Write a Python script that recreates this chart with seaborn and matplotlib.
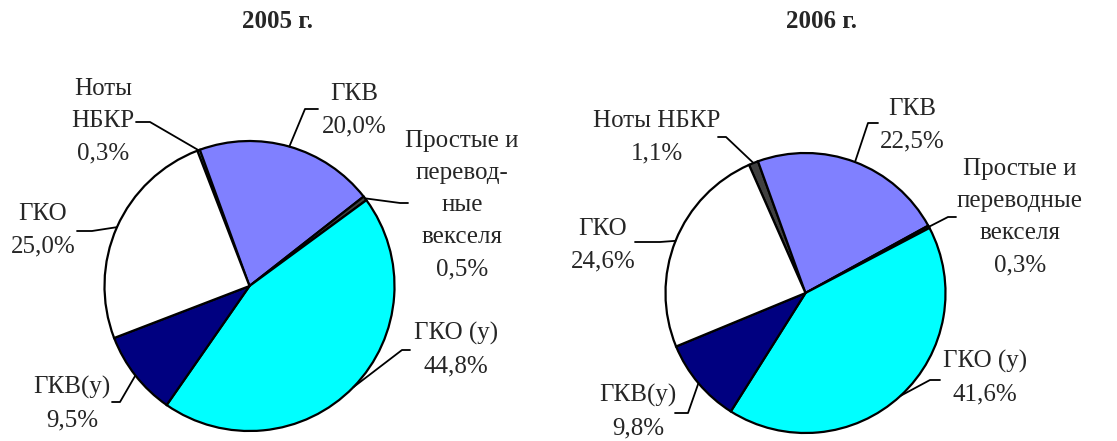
import numpy as np
import seaborn as sns
import matplotlib.pyplot as plt

sns.set_style("white")
plt.rcParams['font.family'] = ['Liberation Serif', 'DejaVu Serif']

# data (clockwise from top)
names_2005 = ['Ноты\nНБКР', 'ГКВ', 'Простые и\nперевод-\nные\nвекселя', 'ГКО (у)', 'ГКВ(у)', 'ГКО']
shares_2005 = [0.3, 20.0, 0.5, 44.8, 9.5, 25.0]
names_2006 = ['Ноты НБКР', 'ГКВ', 'Простые и\nпереводные\nвекселя', 'ГКО (у)', 'ГКВ(у)', 'ГКО']
shares_2006 = [1.1, 22.5, 0.3, 41.6, 9.8, 24.6]
colors_2005 = ['#99ccff', '#8080ff', '#404040', '#00ffff', '#000080', '#ffffff']
colors_2006 = ['#404040', '#8080ff', '#1a1a1a', '#00ffff', '#000080', '#ffffff']

W, H = 1117, 441
fig = plt.figure(figsize=(W / 100, H / 100), dpi=100)
ax = fig.add_axes([0, 0, 1, 1])

# label layout in pixels (top-left origin): text centre, elbow, line end
lay_2005 = [((103, 121), (150, 122), (136, 122)),
            ((354, 110), (305, 109), (318, 109)),
            ((462, 205), (400, 203), (408, 203)),
            ((456, 350), (402, 350), (410, 350)),
            ((72, 404), (120, 402), (112, 402)),
            ((43, 230), (92, 231), (77, 231))]
lay_2006 = [((657, 137), (726, 137), (718, 137)),
            ((912, 125), (868, 123), (878, 123)),
            ((1020, 217), (948, 217), (956, 217)),
            ((985, 378), (930, 380), (940, 380)),
            ((638, 412), (688, 413), (675, 413)),
            ((603, 245), (660, 242), (635, 242))]


def draw(names, shares, colors, center, radius, start, layout, title, title_x):
    cx, cy = center[0], H - center[1]
    wedges, _ = ax.pie(shares, colors=colors, startangle=start, counterclock=False,
                       center=(cx, cy), radius=radius, frame=True,
                       wedgeprops=dict(edgecolor='black', linewidth=1.6))
    for w, name, val, (txt, elb, end) in zip(wedges, names, shares, layout):
        mid = np.deg2rad((w.theta1 + w.theta2) / 2)
        ex, ey = cx + radius * np.cos(mid), cy + radius * np.sin(mid)
        ax.plot([ex, elb[0], end[0]], [ey, H - elb[1], H - end[1]],
                color='black', lw=1.3)
        label = name + '\n' + f'{val:.1f}%'.replace('.', ',')
        ax.text(txt[0], H - txt[1], label, ha='center', va='center',
                fontsize=18, linespacing=1.6)
    ax.text(title_x, H - 22, title, ha='center', va='center',
            fontsize=18, fontweight='bold')


draw(names_2005, shares_2005, colors_2005, (249.5, 286), 145, 111.1,
     lay_2005, '2005 г.', 278)
draw(names_2006, shares_2006, colors_2006, (805.5, 293), 140, 113.8,
     lay_2006, '2006 г.', 822)

ax.set_xlim(0, W)
ax.set_ylim(0, H)
ax.set_aspect('auto')
ax.axis('off')
fig.savefig('out.png', dpi=100)
